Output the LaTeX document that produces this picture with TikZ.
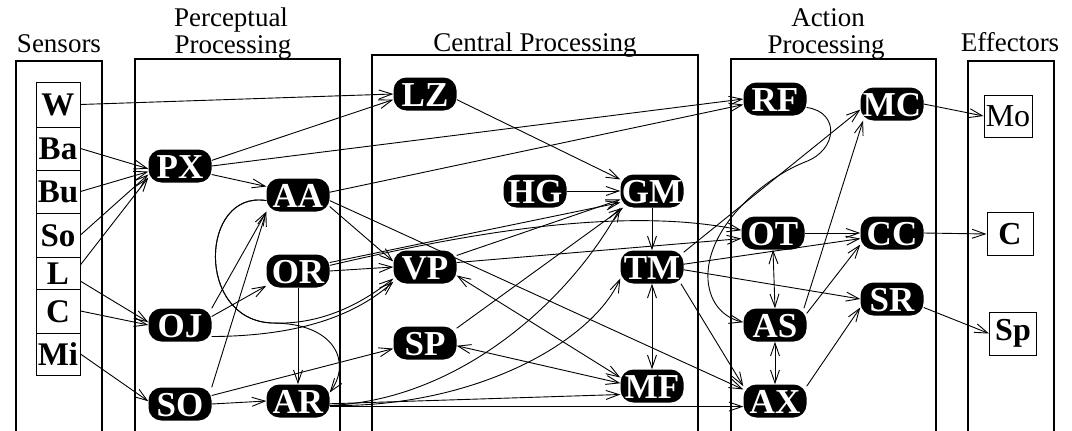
\documentclass[tikz,border=0pt]{standalone}
\usepackage{fontspec}
\setmainfont{Liberation Serif}
\usetikzlibrary{arrows.meta,calc}
\begin{document}
\begin{tikzpicture}[x=1pt,y=-1pt,
  proc/.style={fill=black,text=white,rounded corners=13pt,minimum width=63pt,minimum height=33pt,
    inner sep=0pt,text height=24pt,text depth=0pt,font=\fontsize{35}{35}\selectfont\bfseries},
  sens/.style={draw,line width=1pt,minimum width=44pt,inner sep=0pt,text height=22pt,text depth=0pt,
    font=\fontsize{33}{33}\selectfont\bfseries},
  eff/.style={draw,line width=1pt,inner sep=0pt,font=\fontsize{32}{32}\selectfont\bfseries},
  grp/.style={line width=1.2pt},
  head/.style={anchor=base,inner sep=0pt,font=\fontsize{27}{27}\selectfont},
  arr/.style={line width=0.9pt,-{Straight Barb[length=13pt,width=9pt]}},
  biarr/.style={line width=0.9pt,{Straight Barb[length=13pt,width=9pt]}-{Straight Barb[length=13pt,width=9pt]}},
]
\useasboundingbox (0,0) rectangle (1072,431);

% group frames (open at the bottom edge)
\draw[grp] (16,431) -- (16,61) -- (102,61) -- (102,431);
\draw[grp] (135,431) -- (135,59) -- (340,59) -- (340,431);
\draw[grp] (372,431) -- (372,55) -- (698,55) -- (698,431);
\draw[grp] (731,431) -- (731,59) -- (936,59) -- (936,431);
\draw[grp] (968,431) -- (968,61) -- (1054,61) -- (1054,431);

% headings
\node[head] (hSens) at (59,52) {Sensors};
\node[head] (hPerc1) at (231,27) {Perceptual};
\node[head] (hPerc2) at (233,53) {Processing};
\node[head] (hCent) at (535,51) {Central Processing};
\node[head] (hAct1) at (828,27) {Action};
\node[head] (hAct2) at (826,53) {Processing};
\node[head] (hEff) at (1010,51) {Effectors};

% sensors
\node[sens,minimum height=45pt] (W) at (58,104.5) {W};
\node[sens,minimum height=43pt] (Ba) at (58,148.5) {Ba};
\node[sens,minimum height=43pt] (Bu) at (58,191.5) {Bu};
\node[sens,minimum height=44pt] (So) at (58,235) {So};
\node[sens,minimum height=32pt] (L) at (58,273) {L};
\node[sens,minimum height=44pt] (C) at (58,311) {C};
\node[sens,minimum height=42pt] (Mi) at (58,354) {Mi};

% effectors
\node[eff,minimum width=48pt,minimum height=42pt,font=\fontsize{32}{32}\selectfont] (Mo) at (1008,116) {Mo};
\node[eff,minimum width=46pt,minimum height=43pt] (Ce) at (1010,234) {C};
\node[eff,minimum width=47pt,minimum height=43pt] (Sp) at (1013,333.5) {Sp};

% perceptual processing
\node[proc] (PX) at (180,166) {PX};
\node[proc] (AA) at (298,195) {AA};
\node[proc] (OR) at (298,271) {OR};
\node[proc] (OJ) at (180,325) {OJ};
\node[proc] (SO) at (180,404) {SO};
\node[proc] (AR) at (298,401) {AR};

% central processing
\node[proc] (LZ) at (425,94) {LZ};
\node[proc] (HG) at (535,191) {HG};
\node[proc] (GM) at (652,191) {GM};
\node[proc] (VP) at (425,267) {VP};
\node[proc] (SP) at (425,343) {SP};
\node[proc] (TM) at (652,267) {TM};
\node[proc] (MF) at (652,386) {MF};

% action processing
\node[proc] (RF) at (775,99) {RF};
\node[proc] (MC) at (892,104) {MC};
\node[proc] (OT) at (773,233) {OT};
\node[proc] (CC) at (892,233) {CC};
\node[proc] (SR) at (892,299) {SR};
\node[proc] (AS) at (775,325) {AS};
\node[proc] (AX) at (775,401) {AX};

% sensors to perceptual processing
\draw[arr] (W.east) -- (LZ.west);
\draw[arr] (Ba.east) -- (PX.185);
\draw[arr] (Bu.east) -- (PX.190);
\draw[arr] (So.east) -- (PX.195);
\draw[arr] (L.20) -- (PX.200);
\draw[arr] (L.-20) -- (OJ.175);
\draw[arr] (C.east) -- (OJ.180);
\draw[arr] (Mi.east) -- (SO.175);

% from PX
\draw[arr] (PX.10) -- (LZ.190);
\draw[arr] (PX.0) -- (RF.west);
\draw[arr] (PX.-15) -- (AA.165);

% from AA
\draw[arr] (AA.5) -- (RF.190);
\draw[arr] (AA.-20) -- (VP.170);
\draw[arr] (AA.-10) -- (AX.160);
\draw[arr] (AA.190) .. controls (200,190) and (195,320) .. (272,323)
  .. controls (320,325) and (360,305) .. (VP.200);
\draw[arr] (AA.190) .. controls (200,190) and (195,320) .. (272,323)
  .. controls (335,323) and (352,362) .. (AR.15);

% from OR
\draw[arr] (OR.east) -- (VP.west);
\draw[arr] (OR.15) -- (GM.200);
\draw[arr] (OR.10) .. controls (460,235) and (620,205) .. (OT.175);
\draw[arr] (OR.south) -- (AR.north);

% from OJ
\draw[arr] (OJ.north east) -- (AA.south west);
\draw[arr] (OJ.15) -- (OR.205);
\draw[arr] (OJ.-20) .. controls (290,336) and (350,320) .. (VP.205);

% from SO
\draw[arr] (SO.north east) -- (AA.south west);
\draw[arr] (SO.east) -- (AR.west);
\draw[arr] (SO.15) -- (SP.190);

% from AR
\draw[arr] (AR.-10) -- (AX.190);
\draw[arr] (AR.-5) -- (MF.195);
\draw[arr] (AR.-8) .. controls (470,408) and (590,345) .. (TM.200);
\draw[arr] (AR.-8) .. controls (460,400) and (570,300) .. (GM.south west);

% central processing
\draw[arr] (LZ.-10) -- (GM.160);
\draw[arr] (HG.east) -- (GM.west);
\draw[arr] (VP.20) -- (GM.195);
\draw[arr] (VP.8) -- (OT.190);
\draw[biarr] (VP.-15) -- (MF.165);
\draw[arr] (SP.25) -- (GM.210);
\draw[biarr] (SP.-5) -- (MF.175);
\draw[arr] (GM.south) -- (TM.north);
\draw[biarr] (TM.south) -- (MF.north);

% from TM
\draw[arr] (TM.25) -- (MC.190);
\draw[arr] (TM.5) -- (CC.190);
\draw[arr] (TM.-5) -- (SR.west);
\draw[arr] (TM.-30) -- (AX.155);

% action processing
\draw[arr] (RF.-15) .. controls (840,112) and (838,150) .. (805,162)
  .. controls (760,180) and (705,230) .. (708,280)
  .. controls (710,305) and (725,318) .. (AS.175);
\draw[arr] (OT.east) -- (CC.west);
\draw[biarr] (OT.south) -- (AS.north);
\draw[biarr] (AS.south) -- (AX.north);
\draw[arr] (AS.30) -- (MC.210);
\draw[arr] (AS.20) -- (CC.200);
\draw[arr] (AX.25) -- (SR.195);

% to effectors
\draw[arr] (MC.east) -- (Mo.west);
\draw[arr] (CC.east) -- (Ce.west);
\draw[arr] (SR.-15) -- (Sp.west);
\end{tikzpicture}
\end{document}
